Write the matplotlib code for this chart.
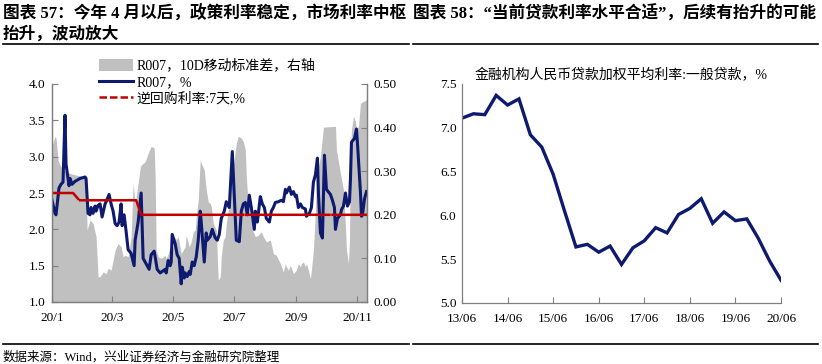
import numpy as np
import pandas as pd
import matplotlib
matplotlib.use("Agg")
import matplotlib.pyplot as plt
from matplotlib.lines import Line2D
from matplotlib.patches import Patch
from matplotlib.ticker import FormatStrFormatter

plt.rcParams['font.family'] = ['Liberation Serif', 'Noto Sans CJK SC']
plt.rcParams['axes.unicode_minus'] = False

# ---- chart 57: R007 vs 7-day reverse repo (x = days since 2020-01-01) ----
r007_day = [0, 3, 4, 7, 9, 11, 13, 14, 17, 18, 20, 23, 28, 33, 34, 36, 38, 39, 41, 43,
            44, 46, 48, 50, 53, 54, 57, 59, 61, 63, 65, 67, 69, 70, 72, 74, 76, 79, 82, 83,
            86, 89, 91, 93, 97, 99, 102, 103, 105, 108, 111, 113, 114, 116, 118, 119, 120, 123, 125, 127,
            129, 130, 132, 133, 135, 137, 138, 140, 142, 144, 146, 148, 149, 152, 154, 155, 158, 160, 163, 165,
            167, 169, 172, 174, 177, 180, 184, 187, 189, 191, 193, 195, 197, 199, 202, 203, 205, 208, 210, 212,
            214, 217, 219, 221, 223, 226, 229, 231, 233, 234, 237, 239, 241, 243, 244, 246, 248, 250, 253, 254,
            257, 259, 261, 263, 265, 266, 268, 270, 271, 272, 274, 278, 280, 282, 283, 285, 288, 289, 291, 293,
            295, 297, 298, 299, 302, 304, 305, 308, 309, 310, 312, 314]
r007 = [2.40, 2.22, 2.20, 2.57, 2.62, 2.65, 3.57, 2.90, 2.60, 2.70, 2.62, 2.66, 2.70, 2.72, 2.70, 2.22, 2.20, 2.30, 2.22, 2.32,
        2.25, 2.33, 2.35, 2.17, 2.35, 2.38, 2.48, 2.35, 2.25, 2.08, 2.05, 2.10, 2.35, 2.05, 2.20, 1.97, 1.72, 1.67, 1.50, 1.85,
        2.10, 2.50, 1.60, 1.55, 1.45, 1.65, 1.70, 1.62, 1.45, 1.40, 1.43, 1.45, 1.40, 1.57, 1.50, 1.55, 1.93, 1.80, 1.65, 1.60,
        1.25, 1.48, 1.33, 1.40, 1.35, 1.42, 1.38, 1.55, 1.50, 1.62, 1.85, 2.25, 2.10, 1.55, 1.95, 1.85, 1.90, 2.00, 1.88, 1.85,
        1.93, 2.15, 2.25, 2.38, 2.30, 3.07, 1.85, 1.83, 2.25, 2.35, 2.37, 2.20, 2.47, 2.30, 2.00, 2.25, 2.10, 2.45, 2.35, 2.30,
        2.15, 2.10, 2.25, 2.30, 2.37, 2.38, 2.40, 2.38, 2.55, 2.50, 2.58, 2.48, 2.52, 2.45, 2.47, 2.30, 2.35, 2.30, 2.28, 2.18,
        2.22, 2.30, 2.65, 2.75, 2.98, 2.50, 1.95, 1.88, 2.45, 3.02, 2.55, 2.48, 2.40, 2.30, 2.00, 2.15, 2.20, 2.27, 2.32, 2.50,
        2.32, 2.38, 2.70, 3.20, 3.25, 3.38, 3.18, 2.50, 2.18, 2.20, 2.42, 2.52]

std_day = [0, 3, 4, 6, 8, 11, 14, 18, 24, 31, 34, 35, 38, 41, 44, 46, 48, 51, 54, 56,
           59, 63, 66, 69, 71, 73, 76, 79, 81, 83, 86, 88, 89, 93, 96, 99, 102, 103, 104, 106,
           109, 113, 114, 116, 118, 119, 123, 124, 126, 129, 133, 134, 137, 139, 141, 143, 144, 146, 148, 149,
           152, 154, 156, 158, 159, 161, 164, 166, 168, 169, 171, 173, 174, 176, 178, 181, 184, 186, 189, 191,
           193, 194, 196, 198, 199, 201, 203, 206, 209, 211, 214, 218, 221, 224, 228, 231, 233, 234, 236, 238,
           241, 244, 246, 248, 249, 251, 253, 254, 256, 258, 259, 261, 263, 264, 268, 271, 283, 284, 288, 291,
           293, 294, 296, 297, 298, 299, 301, 303, 304, 306, 308, 311, 314]
r007_std = [0.357, 0.380, 0.376, 0.326, 0.314, 0.303, 0.299, 0.295, 0.291, 0.288, 0.286, 0.165, 0.188, 0.180, 0.150, 0.058, 0.058, 0.069, 0.065, 0.077,
            0.073, 0.119, 0.134, 0.127, 0.104, 0.107, 0.104, 0.150, 0.272, 0.226, 0.272, 0.307, 0.314, 0.322, 0.341, 0.357, 0.353, 0.288, 0.119, 0.104,
            0.100, 0.107, 0.100, 0.111, 0.127, 0.104, 0.150, 0.142, 0.150, 0.111, 0.127, 0.153, 0.127, 0.138, 0.161, 0.165, 0.196, 0.234, 0.326, 0.318,
            0.303, 0.257, 0.230, 0.226, 0.219, 0.180, 0.165, 0.050, 0.058, 0.104, 0.142, 0.150, 0.180, 0.211, 0.257, 0.311, 0.364, 0.380, 0.376, 0.368,
            0.349, 0.288, 0.219, 0.196, 0.188, 0.161, 0.150, 0.153, 0.161, 0.150, 0.138, 0.142, 0.111, 0.107, 0.088, 0.069, 0.088, 0.081, 0.073, 0.084,
            0.065, 0.073, 0.088, 0.081, 0.088, 0.092, 0.081, 0.088, 0.073, 0.054, 0.073, 0.119, 0.211, 0.288, 0.334, 0.401, 0.403, 0.349, 0.295, 0.257,
            0.173, 0.119, 0.088, 0.142, 0.349, 0.395, 0.426, 0.414, 0.395, 0.403, 0.456, 0.460, 0.464]

repo_day = [0, 21, 26, 27, 28, 84, 89, 191, 192, 194, 277, 278, 280, 314]
repo_rate = [2.50, 2.50, 2.42, np.nan, 2.40, 2.40, 2.20, 2.20, np.nan, 2.20, 2.20, np.nan, 2.20, 2.20]

left_ticks = ["2020-01-01", "2020-03-01", "2020-05-01", "2020-07-01", "2020-09-01", "2020-11-01"]
left_ticklabels = ["20/1", "20/3", "20/5", "20/7", "20/9", "20/11"]

# ---- chart 58: weighted average lending rate, general loans (quarterly) ----
loan_rate = [7.11, 7.16, 7.15, 7.37, 7.26, 7.33, 6.92, 6.78, 6.47, 6.05,
             5.64, 5.67, 5.58, 5.65, 5.44, 5.63, 5.71, 5.86, 5.80, 6.01,
             6.08, 6.19, 5.91, 6.04, 5.94, 5.96, 5.74, 5.48, 5.26]
right_ticklabels = ["13/06", "14/06", "15/06", "16/06", "17/06", "18/06", "19/06", "20/06"]

navy = "#0d1a70"
red = "#c00000"
grey = "#c0c0c0"
spine = "#808080"
W, H = 822, 364


def to_date(days):
    return pd.Timestamp("2020-01-01") + pd.to_timedelta(days, unit="D")


def style_axis(ax):
    for s in ax.spines.values():
        s.set_color(spine)
        s.set_linewidth(0.9)
    ax.tick_params(direction="in", length=4, color=spine, labelsize=9.5, pad=5)


fig = plt.figure(figsize=(W / 100, H / 100), dpi=100)

# left chart
ax = fig.add_axes([52 / W, 1 - 302 / H, 315 / W, 218 / H])
ax2 = ax.twinx()
ax2.fill_between(to_date(std_day), r007_std, 0, color=grey, lw=0)
ax2.set_ylim(0, 0.5)
ax2.set_yticks(np.arange(0, 0.51, 0.1))
ax2.yaxis.set_major_formatter(FormatStrFormatter("%.2f"))
ax.set_zorder(ax2.get_zorder() + 1)
ax.patch.set_visible(False)

ax.plot(to_date(r007_day), r007, color=navy, lw=2.2, solid_joinstyle="round")
ax.plot(to_date(repo_day), repo_rate, color=red, lw=1.8)
ax.set_ylim(1.0, 4.0)
ax.set_yticks(np.arange(1.0, 4.01, 0.5))
ax.yaxis.set_major_formatter(FormatStrFormatter("%.1f"))
ax.set_xlim(pd.Timestamp("2020-01-01"), to_date(314.5))
ax.set_xticks(pd.to_datetime(left_ticks))
ax.set_xticklabels(left_ticklabels)
for a in (ax, ax2):
    style_axis(a)
    a.spines["top"].set_visible(False)
ax.tick_params(axis="x", pad=7)

handles = [Patch(facecolor=grey, edgecolor="none"),
           Line2D([], [], color=navy, lw=2.2),
           Line2D([], [], color=red, lw=1.8, ls=(0, (3, 1.2)))]
labels = ["R007，10D移动标准差，右轴", "R007，%", "逆回购利率:7天,%"]
ax.legend(handles, labels, loc="upper left", bbox_to_anchor=(0.15, 1.115), frameon=False,
          fontsize=10, handlelength=2.4, handleheight=0.9, handletextpad=0.3,
          labelspacing=0.2, borderaxespad=0, borderpad=0)

# right chart
bx = fig.add_axes([462 / W, 1 - 303 / H, 319 / W, 219 / H])
bx.plot(np.arange(len(loan_rate)), loan_rate, color=navy, lw=2.4, solid_joinstyle="miter")
bx.set_xlim(0, len(loan_rate) - 1)
bx.set_ylim(5.0, 7.5)
bx.set_yticks(np.arange(5.0, 7.51, 0.5))
bx.yaxis.set_major_formatter(FormatStrFormatter("%.1f"))
bx.set_xticks(np.arange(0, len(loan_rate), 4))
bx.set_xticklabels(right_ticklabels)
style_axis(bx)
bx.spines["top"].set_visible(False)
bx.spines["right"].set_visible(False)
bx.tick_params(axis="x", pad=7)
bx.tick_params(axis="y", length=0, pad=4)
bx.text(0.04, 1.04, "金融机构人民币贷款加权平均利率:一般贷款，%", transform=bx.transAxes,
        fontsize=10, va="center", ha="left")

# titles, rules and source
fig.text(3 / W, 1 - 14 / H, "图表 57：今年 4 月以后，政策利率稳定，市场利率中枢",
         fontsize=12, fontweight="bold", va="center")
fig.text(3 / W, 1 - 34 / H, "抬升，波动放大", fontsize=12, fontweight="bold", va="center")
fig.text(413 / W, 1 - 14 / H, "图表 58：“当前贷款利率水平合适”，后续有抬升的可能",
         fontsize=12, fontweight="bold", va="center")
for x0, x1 in [(3, 409), (413, 818)]:
    for y in (44, 344):
        fig.add_artist(Line2D([x0 / W, x1 / W], [1 - y / H] * 2, color="black", lw=1.2))
fig.text(3 / W, 1 - 357 / H, "数据来源：Wind，兴业证券经济与金融研究院整理", fontsize=9, va="center")

fig.savefig("out.png", dpi=100)
